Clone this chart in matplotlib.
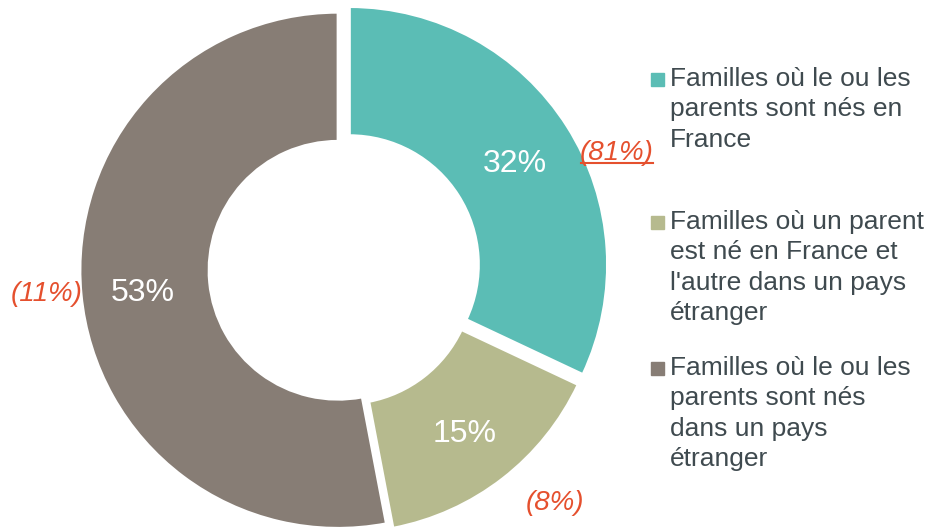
import numpy as np
import matplotlib.pyplot as plt
from matplotlib.patches import Rectangle

plt.rcParams['font.family'] = ['Liberation Sans', 'DejaVu Sans']

# data
shares = [32, 15, 53]
share_labels = ["32%", "15%", "53%"]
side_notes = ["(81%)", "(8%)", "(11%)"]
legend_labels = [
    "Familles où le ou les\nparents sont nés en\nFrance",
    "Familles où un parent\nest né en France et\nl'autre dans un pays\nétranger",
    "Familles où le ou les\nparents sont nés\ndans un pays\nétranger",
]
colors = ["#5bbdb5", "#b6ba8e", "#877d75"]

W, H = 930, 531
fig = plt.figure(figsize=(W / 100, H / 100), dpi=100)
ax = fig.add_axes([0, 0, 1, 1])

cx, cy, R = 341, H - 270, 258
# explode is in data units here (pixels), not relative to radius
wedges, _ = ax.pie(shares, colors=colors, startangle=90, counterclock=False,
                   center=(cx, cy), radius=R, explode=[10, 6, 3],
                   wedgeprops=dict(width=R * 0.5, edgecolor='white', linewidth=2),
                   frame=True)
ax.set_xlim(0, W)
ax.set_ylim(0, H)
ax.set_aspect('equal')
ax.axis('off')

# percentage labels inside the ring
for w, lab in zip(wedges, share_labels):
    mid = np.deg2rad((w.theta1 + w.theta2) / 2)
    r = R * 0.76
    ax.text(w.center[0] + r * np.cos(mid), w.center[1] + r * np.sin(mid) - 4, lab,
            color='white', fontsize=23, ha='center', va='center')

# red notes outside
note_pos = [(617, H - 153), (555, H - 503), (47, H - 294)]
for (x, y), note in zip(note_pos, side_notes):
    ax.text(x, y, note, color='#e5502e', fontsize=20, style='italic',
            ha='center', va='center')
    if note == "(81%)":
        ax.plot([x - 36, x + 36], [y - 10, y - 10], color='#e5502e', lw=1.5)

# legend
leg_y = [H - 79, H - 222, H - 368]
for y, lab, c in zip(leg_y, legend_labels, colors):
    ax.add_patch(Rectangle((651, y - 6.5), 13, 13, color=c))
    ax.text(670, y + 12, lab, color='#3f4a4f', fontsize=19, ha='left',
            va='top', linespacing=1.33)

fig.savefig('out.png', dpi=100)
